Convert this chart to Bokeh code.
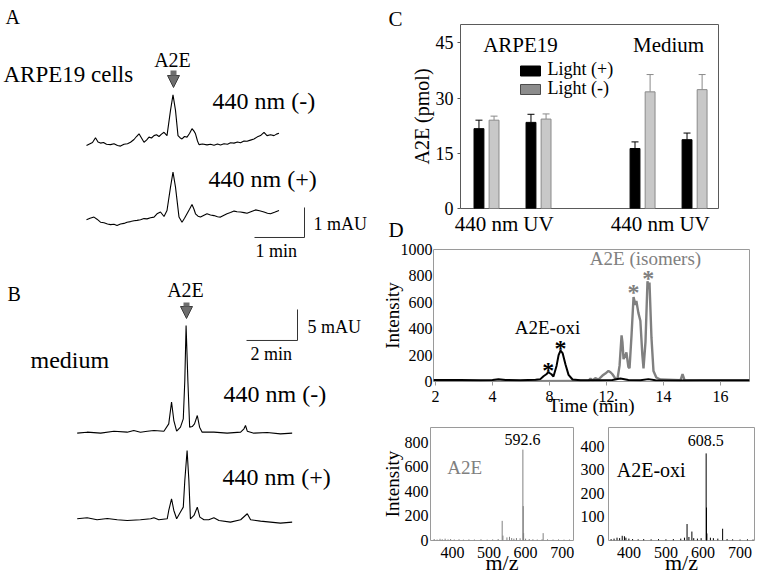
from bokeh.plotting import figure
from bokeh.layouts import row, column
from bokeh.models import (Range1d, Label, Arrow, NormalHead, TeeHead, Whisker,
                          ColumnDataSource, FixedTicker)
from bokeh.core.properties import value
from bokeh.embed import file_html
from bokeh.resources import INLINE

FONT = "Liberation Serif"
GRAY = "#808080"

# ---------------- Panel A : ARPE19 cells (time in min, absorbance in mAU) -------------
a_dark_t = [0.00, 0.06, 0.12, 0.18, 0.23, 0.28, 0.34, 0.40, 0.48, 0.55, 0.62, 0.68, 0.75, 0.82,
            0.88, 0.95, 1.00, 1.05, 1.10, 1.15, 1.20, 1.25, 1.30, 1.35, 1.40, 1.45, 1.50, 1.55,
            1.61, 1.68, 1.73, 1.78, 1.83, 1.87, 1.91, 1.96, 2.01, 2.06, 2.11, 2.15, 2.18, 2.22,
            2.25, 2.32, 2.41, 2.48, 2.55, 2.62, 2.68, 2.75, 2.82, 2.88, 2.95, 3.02, 3.08, 3.15,
            3.21, 3.28, 3.35, 3.41, 3.48, 3.55, 3.61, 3.68, 3.75, 3.80, 3.85]
a_dark_mau = [0.00, 0.05, 0.10, 0.26, 0.12, 0.08, 0.10, 0.04, 0.03, 0.06, 0.00, -0.02, 0.04, 0.06,
              0.11, 0.20, 0.30, 0.39, 0.25, 0.11, 0.18, 0.28, 0.25, 0.33, 0.36, 0.30, 0.38, 0.44,
              0.33, 1.17, 1.69, 1.17, 0.33, 0.26, 0.22, 0.30, 0.28, 0.40, 0.56, 0.48, 0.39, 0.15,
              0.03, 0.05, 0.02, 0.04, 0.01, 0.05, 0.02, 0.06, 0.04, 0.09, 0.08, 0.12, 0.09, 0.15,
              0.14, 0.18, 0.22, 0.28, 0.33, 0.44, 0.33, 0.36, 0.33, 0.38, 0.41]
a_light_t = [0.00, 0.07, 0.15, 0.21, 0.28, 0.35, 0.42, 0.48, 0.55, 0.61, 0.68, 0.75, 0.81, 0.88,
             0.95, 1.01, 1.08, 1.15, 1.21, 1.28, 1.35, 1.41, 1.48, 1.55, 1.61, 1.68, 1.73, 1.78,
             1.85, 1.91, 1.96, 2.01, 2.06, 2.11, 2.15, 2.18, 2.23, 2.28, 2.35, 2.41, 2.48, 2.55,
             2.62, 2.68, 2.75, 2.81, 2.88, 2.95, 3.01, 3.08, 3.15, 3.21, 3.30, 3.38, 3.46, 3.55,
             3.62, 3.68, 3.76, 3.85]
a_light_mau = [0.00, 0.05, 0.09, 0.02, -0.08, -0.10, -0.14, -0.16, -0.15, -0.19, -0.14, -0.12, -0.08, -0.06,
               -0.03, -0.02, 0.00, 0.04, 0.03, 0.07, 0.09, 0.20, 0.26, 0.11, 0.31, 1.09, 1.59, 1.09,
               0.09, -0.08, 0.05, 0.20, 0.35, 0.51, 0.35, 0.20, 0.12, 0.09, 0.15, 0.20, 0.16, 0.14,
               0.10, 0.09, 0.15, 0.20, 0.24, 0.29, 0.27, 0.26, 0.24, 0.22, 0.28, 0.33, 0.30, 0.26,
               0.22, 0.20, 0.25, 0.31]
a_scale_min, a_scale_mau = 1, 1

# ---------------- Panel B : medium -------------
b_dark_t = [0.00, 0.39, 0.92, 1.44, 1.96, 2.22, 2.48, 2.75, 3.01, 3.40, 3.59, 3.70, 3.79, 3.90,
            4.05, 4.16, 4.22, 4.27, 4.34, 4.41, 4.51, 4.60, 4.71, 4.80, 4.90, 5.36, 5.88, 6.41,
            6.54, 6.60, 6.67, 6.93, 7.45, 7.97, 8.43]
b_dark_mau = [-0.16, 0.00, -0.16, 0.16, 0.00, 0.27, 0.00, 0.16, 0.27, 0.16, 1.34, 4.84, 1.88, 0.16,
              0.81, 2.15, 8.33, 17.2, 8.33, 0.81, 0.91, 1.34, 2.69, 0.81, 0.00, 0.00, -0.16, 0.00,
              0.54, 1.08, 0.16, -0.16, -0.05, -0.27, -0.16]
b_light_t = [0.00, 0.39, 0.78, 1.18, 1.57, 1.96, 2.48, 2.88, 3.01, 3.20, 3.53, 3.59, 3.70, 3.79,
             3.90, 4.05, 4.16, 4.22, 4.31, 4.38, 4.44, 4.58, 4.71, 4.81, 4.97, 5.16, 5.36, 5.56,
             6.01, 6.41, 6.67, 6.80, 7.19, 7.58, 7.97, 8.43]
b_light_mau = [0.00, 0.16, -0.16, 0.05, -0.16, -0.27, -0.16, 0.00, 0.16, -0.16, 0.00, 1.34, 3.23, 1.34,
               0.00, 1.08, 1.88, 6.18, 11.02, 6.18, 0.00, 0.54, 1.88, 0.27, -0.16, -0.16, 0.16, -0.27,
               -0.54, -0.16, 0.81, -0.16, -0.38, -0.54, -0.70, -0.54]
b_scale_min, b_scale_mau = 2, 5

# ---------------- Panel C : A2E amount (pmol) -------------
c_pos = [1, 2, 4, 5]
c_labels = ["440 nm", "UV", "440 nm", "UV"]
c_light_on = [21.7, 23.4, 16.3, 18.7]
c_light_on_sd = [2.3, 2.2, 1.8, 1.8]
c_light_off = [24.0, 24.3, 31.7, 32.3]
c_light_off_sd = [1.1, 1.4, 4.7, 4.1]
c_yticks = [0, 15, 30, 45]

# ---------------- Panel D : chromatogram -------------
d_xticks = [2, 4, 6, 8, 10, 12]
d_xtick_labels = ["2", "4", "8", "12", "14", "16"]
d_yticks = [0, 200, 400, 600, 800, 1000]
d_oxi_t = [1.93, 2.88, 3.58, 4.00, 4.21, 4.46, 4.98, 5.51, 5.68, 5.79, 5.89, 5.96, 6.07, 6.14,
           6.25, 6.32, 6.39, 6.46, 6.56, 6.67, 6.81, 7.09, 7.79, 8.21, 8.49, 8.77, 9.19, 9.47,
           9.72, 10.60, 11.30, 13.02]
d_oxi_int = [12, 12, 10, 12, 18, 12, 10, 14, 18, 40, 55, 70, 55, 38,
             120, 200, 235, 215, 130, 50, 15, 10, 10, 12, 22, 12, 10, 18,
             10, 8, 10, 10]
d_iso_t = [1.93, 4.98, 7.09, 7.37, 7.44, 7.51, 7.61, 7.72, 7.86, 7.96, 8.07, 8.14, 8.21, 8.32,
           8.39, 8.46, 8.53, 8.56, 8.60, 8.67, 8.70, 8.77, 8.81, 8.88, 8.95, 9.02, 9.05, 9.12,
           9.19, 9.26, 9.30, 9.37, 9.44, 9.47, 9.51, 9.58, 9.65, 9.75, 9.89, 10.60, 10.67, 10.74,
           11.30, 13.02]
d_iso_int = [3, 3, 5, 5, 22, 8, 25, 15, 45, 60, 80, 70, 55, 20,
             25, 120, 350, 300, 170, 200, 220, 110, 100, 350, 640, 580, 610, 520,
             460, 200, 100, 300, 760, 700, 750, 330, 80, 30, 15, 10, 55, 10,
             5, 5]
d_star_oxi_t, d_star_oxi_int = [5.96, 6.39], [90, 257]
d_star_iso_t, d_star_iso_int = [8.95, 9.47], [681, 787]

# ---------------- Panel D : mass spectra -------------
ms_xticks = [400, 500, 600, 700]
e1_yticks = [0, 200, 400, 600, 800]
e1_mz = [350, 358, 366, 372, 380, 388, 395, 405, 418, 430, 445, 460, 478, 495, 510, 525, 536, 538,
         549, 556, 562, 568, 575, 585, 592.6, 593.6, 594.6, 600, 610, 620, 632, 645, 648, 660,
         675, 690, 705, 720]
e1_int = [12, 8, 14, 10, 15, 9, 12, 8, 10, 7, 9, 8, 10, 7, 9, 12, 160, 40,
          25, 30, 20, 15, 20, 18, 740, 280, 60, 15, 12, 10, 8, 10, 60, 10,
          8, 9, 7, 8]
e2_yticks = [0, 100, 200, 300, 400]
e2_mz = [352, 360, 368, 375, 382, 388, 392, 400, 410, 425, 440, 460, 480, 500, 520, 540, 550, 557,
         562, 570, 575, 585, 595, 608.5, 609.5, 610.5, 620, 628, 640, 653, 665, 680, 700, 720, 735]
e2_int = [6, 8, 12, 10, 20, 18, 12, 8, 6, 5, 6, 5, 6, 5, 6, 8, 12, 70,
          15, 38, 10, 8, 10, 370, 140, 30, 12, 10, 8, 50, 6, 5, 4, 5, 4]


def make_fig(w, h, xr, yr, borders, axes=True):
    l, r, t, b = borders
    kw = dict(width=w, height=h, x_range=Range1d(*xr), y_range=Range1d(*yr),
              output_backend="svg", toolbar_location=None,
              min_border_left=l, min_border_right=r, min_border_top=t, min_border_bottom=b)
    if not axes:
        kw.update(x_axis_location=None, y_axis_location=None)
    p = figure(**kw)
    p.frame_align = False
    p.xgrid.grid_line_color = None
    p.ygrid.grid_line_color = None
    p.border_fill_color = "white"
    p.background_fill_color = "white"
    if not axes:
        p.outline_line_color = None
    return p


def style_axis(ax, ticks, size, tick_out=0, standoff=2, label=None, label_size=19,
               label_standoff=0, overrides=None):
    ax.ticker = FixedTicker(ticks=ticks)
    if overrides:
        ax.major_label_overrides = overrides
    ax.major_label_text_font = FONT
    ax.major_label_text_font_size = f"{size}px"
    ax.major_label_text_color = "black"
    ax.major_tick_out = tick_out
    ax.major_tick_in = 0
    ax.minor_tick_out = 0
    ax.minor_tick_in = 0
    ax.major_tick_line_color = "#555555" if tick_out else None
    ax.major_label_standoff = standoff
    ax.axis_line_color = None
    if label:
        ax.axis_label = label
        ax.axis_label_text_font = FONT
        ax.axis_label_text_font_size = f"{label_size}px"
        ax.axis_label_text_font_style = "normal"
        ax.axis_label_text_color = "black"
        ax.axis_label_standoff = label_standoff


def label(p, x, y, text, size, color="black", align="left"):
    # screen units, measured from the bottom-left of the (border-less) frame
    p.add_layout(Label(x=x, y=y, x_units="screen", y_units="screen", text=text,
                       text_font=FONT, text_font_size=f"{size}px", text_color=color,
                       text_align=align, text_baseline="alphabetic"))


def down_arrow(p, x, y0, y1):
    p.add_layout(Arrow(x_start=x, y_start=y0, x_end=x, y_end=y1,
                       start_units="screen", end_units="screen",
                       line_width=6, line_color="#6e6e6e",
                       end=NormalHead(size=12, fill_color="#6e6e6e",
                                      line_color="#3c3c3c", line_width=1)))


def txt(p, x, y, text, size, color="black", align="center", style="normal"):
    p.text(x=x, y=y, text=text, text_font=value(FONT), text_font_size=f"{size}px",
           text_align=align, text_baseline="alphabetic", text_color=color,
           text_font_style=style)


# ======================= Panel A =======================
A_DARK_BASE, A_LIGHT_BASE = 4.333, 1.857
pA = make_fig(378, 275, (-1.72, 5.84), (0, 9.1667), (0, 0, 0, 0), axes=False)
pA.line(a_dark_t, [v + A_DARK_BASE for v in a_dark_mau], line_color="black", line_width=1.1)
pA.line(a_light_t, [v + A_LIGHT_BASE for v in a_light_mau], line_color="black", line_width=1.1)
ax0, ay0 = 4.36, 1.267
pA.line([ax0 - a_scale_min, ax0, ax0], [ay0, ay0, ay0 + a_scale_mau], line_color="#333333", line_width=1)
label(pA, 5, 259, "A", 20)
label(pA, 172, 216, "A2E", 20, align="center")
down_arrow(pA, 173, 205, 188)
label(pA, 3, 201, "ARPE19 cells", 23)
label(pA, 212, 175, "440 nm (-)", 24)
label(pA, 208, 97, "440 nm (+)", 24)
label(pA, 313, 52, "1 mAU", 18)
label(pA, 255, 25, "1 min", 18)

# ======================= Panel B =======================
B_DARK_BASE, B_LIGHT_BASE = 23.44, 9.47
pB = make_fig(378, 302, (-3.008, 11.816), (0, 48.71), (0, 0, 0, 0), axes=False)
pB.line(b_dark_t, [v + B_DARK_BASE for v in b_dark_mau], line_color="black", line_width=1.1)
pB.line(b_light_t, [v + B_LIGHT_BASE for v in b_light_mau], line_color="black", line_width=1.1)
bx0, by0 = 8.64, 38.23
pB.line([bx0 - b_scale_min, bx0, bx0], [by0, by0, by0 + b_scale_mau], line_color="#333333", line_width=1)
label(pB, 7, 284, "B", 20)
label(pB, 185, 288, "A2E", 20, align="center")
down_arrow(pB, 186, 275, 259)
label(pB, 307, 251, "5 mAU", 18)
label(pB, 250, 224, "2 min", 18)
label(pB, 30, 218, "medium", 24)
label(pB, 223, 184, "440 nm (-)", 24)
label(pB, 222, 101, "440 nm (+)", 24)

# ======================= panel letters C / D =======================
pL = make_fig(26, 241, (0, 1), (0, 1), (0, 0, 0, 0), axes=False)
label(pL, 10, 223, "C", 21)
label(pL, 10, 12, "D", 21)

# ======================= Panel C =======================
pC = make_fig(352, 241, (0.5, 5.46), (0, 50), (56, 38, 24, 33))
pC.outline_line_color = "#5a5a5a"
BW, OFF = 0.19, 0.145
on_x = [x - OFF for x in c_pos]
off_x = [x + OFF for x in c_pos]
pC.vbar(x=on_x, top=c_light_on, width=BW, fill_color="black", line_color="black")
pC.vbar(x=off_x, top=c_light_off, width=BW, fill_color="#c8c8c8", line_color="#8a8a8a")
src_on = ColumnDataSource(dict(x=on_x, lo=c_light_on,
                               hi=[v + s for v, s in zip(c_light_on, c_light_on_sd)]))
src_off = ColumnDataSource(dict(x=off_x, lo=c_light_off,
                                hi=[v + s for v, s in zip(c_light_off, c_light_off_sd)]))
for src, col in ((src_on, "black"), (src_off, "#8a8a8a")):
    pC.add_layout(Whisker(base="x", lower="lo", upper="hi", source=src, dimension="height",
                          line_color=col, line_width=1, lower_head=None,
                          upper_head=TeeHead(size=7, line_color=col, line_width=1)))
style_axis(pC.xaxis[0], c_pos, 21, tick_out=0, standoff=3,
           overrides={p: t for p, t in zip(c_pos, c_labels)})
style_axis(pC.yaxis[0], c_yticks, 18, tick_out=3, standoff=4, label="A2E (pmol)",
           label_size=20, label_standoff=0)
txt(pC, [1.654, 4.5], [44.3, 44.3], ["ARPE19", "Medium"], 21)
pC.rect(x=[1.846, 1.846], y=[37.36, 32.34], width=20, height=10, width_units="screen",
        height_units="screen", fill_color=["black", "#8c8c8c"], line_color=["black", "#4a4a4a"])
txt(pC, [2.173, 2.173], [38.04, 32.88], ["Light (+)", "Light (-)"], 18, align="left")

# ======================= Panel D chromatogram =======================
pD = make_fig(378, 185, (1.93, 13.02), (0, 1000), (55, 7, 8, 45))
pD.outline_line_color = "#9a9a9a"
pD.line(d_iso_t, d_iso_int, line_color=GRAY, line_width=2.4)
pD.line(d_oxi_t, d_oxi_int, line_color="black", line_width=2)
style_axis(pD.xaxis[0], d_xticks, 16, tick_out=4, standoff=5, label="Time (min)", label_size=19,
           label_standoff=-10, overrides={p: t for p, t in zip(d_xticks, d_xtick_labels)})
pD.xaxis[0].major_tick_line_color = "#9a9a9a"
style_axis(pD.yaxis[0], d_yticks, 16, tick_out=0, standoff=1, label="Intensity", label_size=19,
           label_standoff=-5)
txt(pD, [5.93], [409], ["A2E-oxi"], 19)
txt(pD, [9.37], [932], ["A2E (isomers)"], 19, color=GRAY)
txt(pD, d_star_oxi_t, d_star_oxi_int, ["*", "*"], 24, style="bold")
txt(pD, d_star_iso_t, d_star_iso_int, ["*", "*"], 24, color=GRAY, style="bold")

# ======================= Mass spectra =======================
pE1 = make_fig(199, 151, (340, 731), (0, 920), (49, 4, 1, 35))
pE1.outline_line_color = "#9a9a9a"
pE1.segment(x0=e1_mz, y0=[0] * len(e1_mz), x1=e1_mz, y1=e1_int, line_color=GRAY, line_width=1)
style_axis(pE1.xaxis[0], ms_xticks, 16, standoff=6, label="m/z", label_size=22, label_standoff=-11)
style_axis(pE1.yaxis[0], e1_yticks, 16, standoff=2, label="Intensity", label_size=19,
           label_standoff=-1)
txt(pE1, [591.7], [824], ["592.6"], 16)
txt(pE1, [433.7], [592], ["A2E"], 19, color=GRAY)

pE2 = make_fig(179, 151, (345, 739), (0, 480), (30, 2, 1, 35))
pE2.outline_line_color = "#9a9a9a"
pE2.segment(x0=e2_mz, y0=[0] * len(e2_mz), x1=e2_mz, y1=e2_int, line_color="black", line_width=1)
style_axis(pE2.xaxis[0], ms_xticks, 16, standoff=6, label="m/z", label_size=22, label_standoff=-11)
style_axis(pE2.yaxis[0], e2_yticks, 16, standoff=4)
txt(pE2, [607.7], [424], ["608.5"], 16)
txt(pE2, [460.3], [298], ["A2E-oxi"], 20)

layout = row(column(pA, pB), column(row(pL, pC), pD, row(pE1, pE2)))
open("out.html", "w").write(file_html(layout, INLINE))
